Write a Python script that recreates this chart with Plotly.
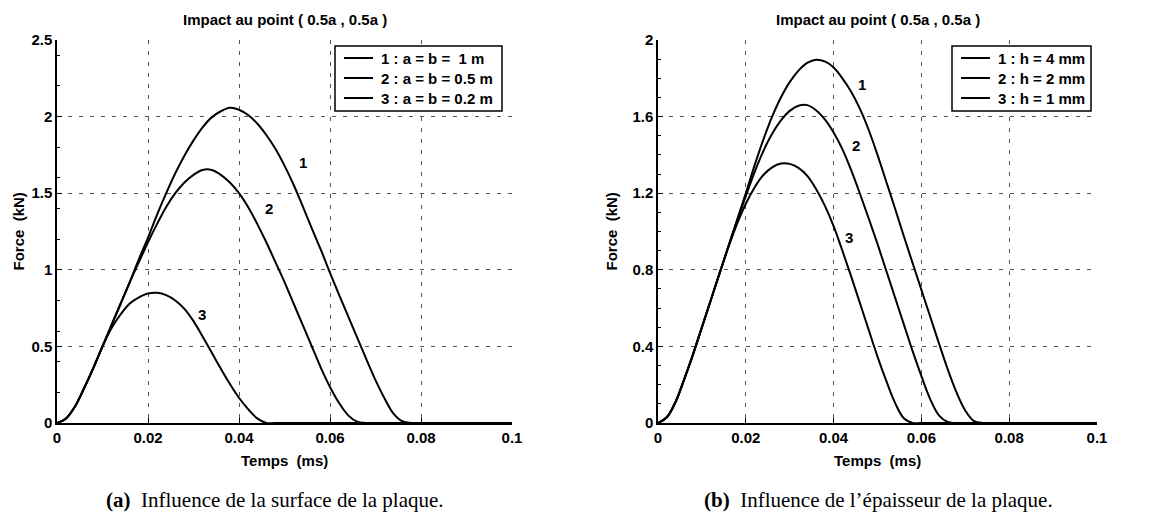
import plotly.graph_objects as go

# ---------------- data ----------------
# Panel (a): influence of plate surface  (time in ms, force in kN)
t_a1 = [0, 0.002, 0.004, 0.006, 0.008, 0.010, 0.012, 0.014, 0.016, 0.018, 0.020, 0.022, 0.024, 0.026,
        0.028, 0.030, 0.032, 0.034, 0.036, 0.038, 0.040, 0.042, 0.044, 0.046, 0.048, 0.050, 0.052,
        0.054, 0.056, 0.058, 0.060, 0.062, 0.064, 0.066, 0.068, 0.070, 0.072, 0.074, 0.076, 0.078, 0.1]
f_a1 = [0, 0.03, 0.11, 0.23, 0.36, 0.50, 0.64, 0.78, 0.92, 1.07, 1.21, 1.36, 1.50, 1.63,
        1.745, 1.845, 1.93, 1.995, 2.035, 2.058, 2.045, 2.01, 1.955, 1.88, 1.79, 1.68, 1.555,
        1.415, 1.27, 1.13, 0.98, 0.836, 0.696, 0.556, 0.416, 0.28, 0.16, 0.06, 0.01, 0, 0]
t_a2 = [0, 0.002, 0.004, 0.006, 0.008, 0.010, 0.012, 0.014, 0.016, 0.018, 0.020, 0.022, 0.024, 0.026,
        0.028, 0.030, 0.032, 0.034, 0.036, 0.038, 0.040, 0.042, 0.044, 0.046, 0.048, 0.050, 0.052,
        0.054, 0.056, 0.058, 0.060, 0.062, 0.064, 0.066, 0.068, 0.1]
f_a2 = [0, 0.03, 0.11, 0.23, 0.36, 0.50, 0.64, 0.78, 0.92, 1.05, 1.18, 1.30, 1.41, 1.50,
        1.57, 1.62, 1.652, 1.652, 1.62, 1.57, 1.50, 1.41, 1.30, 1.18, 1.05, 0.92, 0.78,
        0.64, 0.50, 0.36, 0.235, 0.13, 0.05, 0.008, 0, 0]
t_a3 = [0, 0.002, 0.004, 0.006, 0.008, 0.010, 0.012, 0.014, 0.016, 0.018, 0.020, 0.022, 0.024, 0.026,
        0.028, 0.030, 0.032, 0.034, 0.036, 0.038, 0.040, 0.042, 0.044, 0.046, 0.048, 0.1]
f_a3 = [0, 0.03, 0.11, 0.23, 0.36, 0.50, 0.62, 0.71, 0.78, 0.82, 0.845, 0.85, 0.835, 0.80,
        0.745, 0.665, 0.565, 0.46, 0.355, 0.255, 0.165, 0.09, 0.03, 0, 0, 0]

# Panel (b): influence of plate thickness
t_b1 = [0, 0.002, 0.004, 0.006, 0.008, 0.010, 0.012, 0.014, 0.016, 0.018, 0.020, 0.022, 0.024, 0.026,
        0.028, 0.030, 0.032, 0.034, 0.036, 0.038, 0.040, 0.042, 0.044, 0.046, 0.048, 0.050, 0.052,
        0.054, 0.056, 0.058, 0.060, 0.062, 0.064, 0.066, 0.068, 0.070, 0.072, 0.074, 0.076, 0.1]
f_b1 = [0, 0.03, 0.11, 0.23, 0.36, 0.50, 0.64, 0.78, 0.92, 1.06, 1.20, 1.345, 1.48, 1.60,
        1.70, 1.78, 1.84, 1.88, 1.897, 1.888, 1.856, 1.80, 1.73, 1.64, 1.53, 1.40, 1.26,
        1.12, 0.975, 0.835, 0.695, 0.556, 0.416, 0.28, 0.16, 0.065, 0.01, 0, 0, 0]
t_b2 = [0, 0.002, 0.004, 0.006, 0.008, 0.010, 0.012, 0.014, 0.016, 0.018, 0.020, 0.022, 0.024, 0.026,
        0.028, 0.030, 0.032, 0.034, 0.036, 0.038, 0.040, 0.042, 0.044, 0.046, 0.048, 0.050, 0.052,
        0.054, 0.056, 0.058, 0.060, 0.062, 0.064, 0.066, 0.068, 0.1]
f_b2 = [0, 0.03, 0.11, 0.23, 0.36, 0.50, 0.64, 0.78, 0.92, 1.055, 1.185, 1.31, 1.42, 1.51,
        1.58, 1.63, 1.657, 1.66, 1.633, 1.585, 1.517, 1.43, 1.32, 1.197, 1.068, 0.935, 0.795,
        0.655, 0.515, 0.375, 0.245, 0.125, 0.04, 0.005, 0, 0]
t_b3 = [0, 0.002, 0.004, 0.006, 0.008, 0.010, 0.012, 0.014, 0.016, 0.018, 0.020, 0.022, 0.024, 0.026,
        0.028, 0.030, 0.032, 0.034, 0.036, 0.038, 0.040, 0.042, 0.044, 0.046, 0.048, 0.050, 0.052,
        0.054, 0.056, 0.058, 0.060, 0.1]
f_b3 = [0, 0.03, 0.11, 0.23, 0.36, 0.50, 0.64, 0.78, 0.915, 1.04, 1.145, 1.23, 1.295, 1.335,
        1.355, 1.353, 1.332, 1.29, 1.222, 1.135, 1.028, 0.90, 0.766, 0.626, 0.486, 0.347, 0.22,
        0.105, 0.025, 0, 0, 0]

names_a = ["1 : a = b = \u00a01 m", "2 : a = b = 0.5 m", "3 : a = b = 0.2 m"]
names_b = ["1 : h = 4 mm", "2 : h = 2 mm", "3 : h = 1 mm"]

x_ticks = [0, 0.02, 0.04, 0.06, 0.08, 0.1]
x_ticktext = ["0", "0.02", "0.04", "0.06", "0.08", "0.1"]
ya_ticks = [0, 0.5, 1, 1.5, 2, 2.5]
ya_ticktext = ["0", "0.5", "1", "1.5", "2", "2.5"]
yb_ticks = [0, 0.4, 0.8, 1.2, 1.6, 2]
yb_ticktext = ["0", "0.4", "0.8", "1.2", "1.6", "2"]

# curve label positions (data coords)
lab_a = [("1", 0.0540, 1.70), ("2", 0.0465, 1.40), ("3", 0.0318, 0.71)]
lab_b = [("1", 0.0465, 1.77), ("2", 0.0452, 1.45), ("3", 0.0436, 0.97)]

title_txt = "Impact au point ( 0.5a , 0.5a )"
xtitle = "Temps \u00a0(ms)"
ytitle = "Force \u00a0(kN)"
cap_a = "<b>(a)</b>\u00a0 Influence de la surface de la plaque."
cap_b = "<b>(b)</b>\u00a0 Influence de l\u2019épaisseur de la plaque."

# ---------------- figure ----------------
W, H = 1171, 520
FONT = "Liberation Sans, Arial, sans-serif"
FS = 15
bold = dict(family=FONT, size=FS, color="black", weight="bold")

fig = go.Figure()
for t, f, n in zip([t_a1, t_a2, t_a3], [f_a1, f_a2, f_a3], names_a):
    fig.add_trace(go.Scatter(x=t, y=f, name=n, mode="lines", showlegend=False,
                             line=dict(color="black", width=2, shape="spline", smoothing=1.0),
                             xaxis="x", yaxis="y"))
for t, f, n in zip([t_b1, t_b2, t_b3], [f_b1, f_b2, f_b3], names_b):
    fig.add_trace(go.Scatter(x=t, y=f, name=n, mode="lines", showlegend=False,
                             line=dict(color="black", width=2, shape="spline", smoothing=1.0),
                             xaxis="x2", yaxis="y2"))

# pixel geometry
la_l, la_r = 57, 512
lb_l, lb_r = 658, 1097
p_top, p_bot = 40, 423
ydom = [(H - p_bot) / H, (H - p_top) / H]


def px(x):
    return x / W


def py(y):
    return (H - y) / H


axis_common = dict(
    showline=True, linecolor="black", linewidth=1.5,
    ticks="inside", ticklen=5, tickwidth=1, tickcolor="black",
    showgrid=True, gridcolor="#555", gridwidth=1, griddash="4px,7px",
    zeroline=False, mirror=False,
    tickfont=bold,
    automargin=False,
)
minor_y = dict(ticks="inside", ticklen=3, tickcolor="black", nticks=5, showgrid=False)

fig.update_layout(
    width=W, height=H,
    margin=dict(l=0, r=0, t=0, b=0),
    paper_bgcolor="white", plot_bgcolor="white",
    showlegend=False,
    xaxis=dict(axis_common, domain=[px(la_l), px(la_r)], range=[0, 0.1],
               tickvals=x_ticks, ticktext=x_ticktext, anchor="y"),
    yaxis=dict(axis_common, domain=ydom, range=[0, 2.5],
               tickvals=ya_ticks, ticktext=ya_ticktext, anchor="x", minor=minor_y),
    xaxis2=dict(axis_common, domain=[px(lb_l), px(lb_r)], range=[0, 0.1],
                tickvals=x_ticks, ticktext=x_ticktext, anchor="y2"),
    yaxis2=dict(axis_common, domain=ydom, range=[0, 2],
                tickvals=yb_ticks, ticktext=yb_ticktext, anchor="x2", minor=minor_y),
)

ann = []
shapes = []
for cx_l, cx_r in [(la_l, la_r), (lb_l, lb_r)]:
    cx = px((cx_l + cx_r) / 2)
    ann.append(dict(text=title_txt, x=cx, y=py(20), xref="paper", yref="paper",
                    showarrow=False, font=bold, xanchor="center", yanchor="middle"))
    ann.append(dict(text=xtitle, x=cx, y=py(460), xref="paper", yref="paper",
                    showarrow=False, font=bold, xanchor="center", yanchor="middle"))
for yx in [18, 611]:
    ann.append(dict(text=ytitle, x=px(yx), y=py((p_top + p_bot) / 2), xref="paper",
                    yref="paper", showarrow=False, font=bold, textangle=-90,
                    xanchor="center", yanchor="middle"))
for (s, tx, fy) in lab_a:
    ann.append(dict(text=s, x=tx, y=fy, xref="x", yref="y", showarrow=False, font=bold))
for (s, tx, fy) in lab_b:
    ann.append(dict(text=s, x=tx, y=fy, xref="x2", yref="y2", showarrow=False, font=bold))

# legends drawn as boxes (one per panel)
leg_boxes = [(335, 46, 502, 111, names_a), (952, 46, 1091, 111, names_b)]
for (x0, y0, x1, y1, names) in leg_boxes:
    shapes.append(dict(type="rect", xref="paper", yref="paper", x0=px(x0), x1=px(x1),
                       y0=py(y1), y1=py(y0), line=dict(color="black", width=1.5),
                       fillcolor="white", layer="above"))
    for i, n in enumerate(names):
        yy = y0 + 12 + i * 20
        shapes.append(dict(type="line", xref="paper", yref="paper", x0=px(x0 + 9),
                           x1=px(x0 + 38), y0=py(yy), y1=py(yy),
                           line=dict(color="black", width=2), layer="above"))
        ann.append(dict(text=n, x=px(x0 + 44), y=py(yy), xref="paper", yref="paper",
                        showarrow=False, font=bold, xanchor="left", yanchor="middle"))

serif = dict(family="Liberation Serif, Times New Roman, serif", size=21, color="black")
ann.append(dict(text=cap_a, x=px(275), y=py(500), xref="paper", yref="paper",
                showarrow=False, font=serif, xanchor="center", yanchor="middle"))
ann.append(dict(text=cap_b, x=px(878), y=py(500), xref="paper", yref="paper",
                showarrow=False, font=serif, xanchor="center", yanchor="middle"))
fig.update_layout(annotations=ann, shapes=shapes)

fig.write_html("out.html")
